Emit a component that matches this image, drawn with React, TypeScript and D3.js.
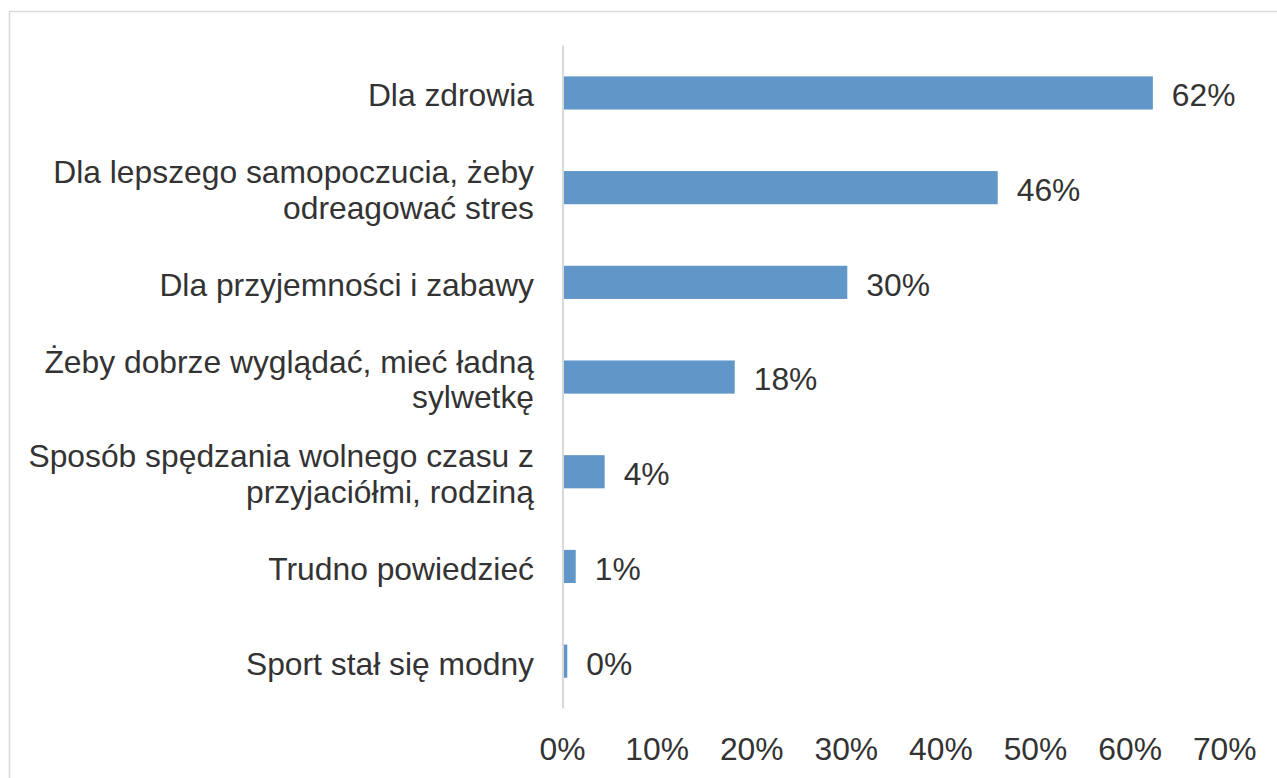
import React from "react";
import * as d3 from "d3";

const categories: string[][] = [
  ["Dla zdrowia"],
  ["Dla lepszego samopoczucia, żeby", "odreagować stres"],
  ["Dla przyjemności i zabawy"],
  ["Żeby dobrze wyglądać, mieć ładną", "sylwetkę"],
  ["Sposób spędzania wolnego czasu z", "przyjaciółmi, rodziną"],
  ["Trudno powiedzieć"],
  ["Sport stał się modny"],
];
const values: number[] = [62.3, 45.9, 30.0, 18.1, 4.35, 1.29, 0.4];
const valueLabels: string[] = ["62%", "46%", "30%", "18%", "4%", "1%", "0%"];
const ticks: number[] = [0, 10, 20, 30, 40, 50, 60, 70];

const W = 1277;
const H = 778;
const FONT = "'Liberation Sans', Arial, Helvetica, sans-serif";
const TEXT = "#333333";
const BAR = "#6096c8";
const FS = 31.8;

export default function App() {
  const x = d3.scaleLinear().domain([0, 70]).range([563.5, 1225.7]);
  const y = d3
    .scaleBand<number>()
    .domain(d3.range(categories.length))
    .range([45.6, 708.5])
    .paddingInner(0.65)
    .paddingOuter(0.325);
  const bw = y.bandwidth();

  return (
    <svg
      width={W}
      height={H}
      style={{ position: "absolute", left: 0, top: 0, background: "#fff" }}
      fontFamily={FONT}
    >
      <rect x={9.5} y={11.5} width={W + 20} height={H + 20} fill="#fff" stroke="#d9d9d9" strokeWidth={1.5} />
      {values.map((v, i) => {
        const yc = (y(i) as number) + bw / 2;
        return (
          <g key={i}>
            <rect x={x(0)} y={y(i)} width={x(v) - x(0)} height={bw} fill={BAR} />
            <text x={x(v) + 19} y={yc} dy="0.42em" fontSize={FS} fill={TEXT}>
              {valueLabels[i]}
            </text>
            {categories[i].map((line, j) => {
              const n = categories[i].length;
              const off = (j - (n - 1) / 2) * 35.5;
              return (
                <text key={j} x={534} y={yc + off} dy="0.42em" fontSize={FS} fill={TEXT} textAnchor="end">
                  {line}
                </text>
              );
            })}
          </g>
        );
      })}
      <line x1={563} x2={563} y1={45.6} y2={708.5} stroke="#d9d9d9" strokeWidth={2} />
      {ticks.map((t) => (
        <text key={t} x={x(t) - 1} y={760} fontSize={FS} fill={TEXT} textAnchor="middle">
          {t + "%"}
        </text>
      ))}
    </svg>
  );
}
